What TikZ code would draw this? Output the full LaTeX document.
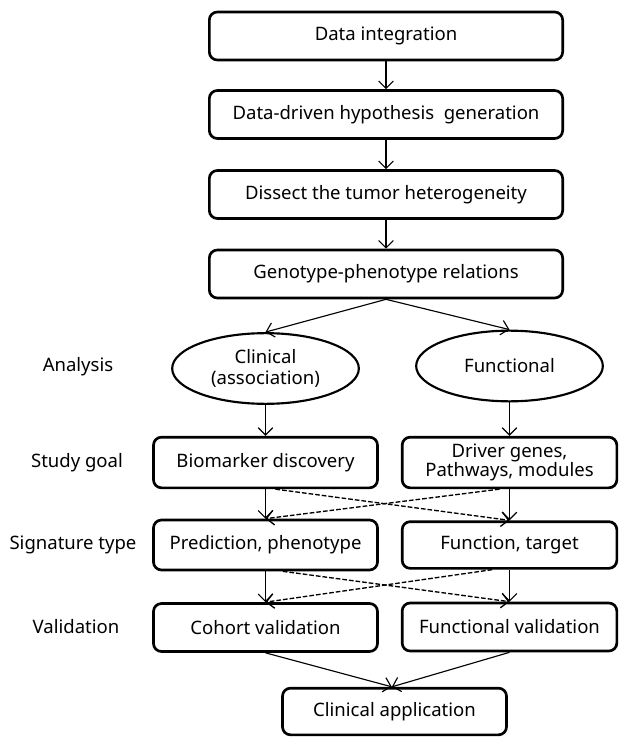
\documentclass[tikz,border=0pt]{standalone}
\usepackage{fontspec}
\setmainfont{Noto Sans}
\usepackage{tikz}
\usetikzlibrary{ arrows.meta,      % For open arrow tips
                 shapes.geometric, % For the ellipses
                 positioning,
               }
\tikzstyle{link} = [-{Straight Barb[length=5.5pt,width=11pt]}, line width=0.85pt]
\tikzstyle{cross} = [link, line width=1pt, dash pattern=on 3.5pt off 1.5pt]
\tikzstyle{block} = [rectangle, rounded corners=6pt, draw=black, line width=2pt, align=center, inner sep=1pt, minimum height=36pt]
\tikzstyle{wide} = [block, minimum width=265pt]
\tikzstyle{leftcol} = [block, minimum width=168pt]
\tikzstyle{rightcol} = [block, minimum width=161pt]
\tikzstyle{bubble} = [ellipse, draw=black, line width=1.6pt, align=center, inner sep=0pt, minimum width=140pt, minimum height=53pt]
\tikzstyle{rowname} = [align=center]

\begin{document}
\begin{tikzpicture}[x=0.75pt, y=-0.75pt, font=\fontsize{13.9}{15.5}\selectfont]
  \useasboundingbox (0,0) rectangle (618,737);

  % main chain
  \node (data) [wide] at (386, 36) {Data integration};
  \node (hyp) [wide] at (386, 114.5) {Data-driven hypothesis\ \ generation};
  \node (dis) [wide] at (386, 194.5) {Dissect the tumor heterogeneity};
  \node (geno) [wide] at (386, 274) {Genotype-phenotype relations};
  \path [link] (data) edge (hyp) (hyp) edge (dis) (dis) edge (geno);

  % analysis
  \node (clin) [bubble] at (265.5, 368.5) {Clinical\\(association)};
  \node (func) [bubble] at (509.5, 366) {Functional};
  \draw [link] (geno.south) -- (clin.north);
  \draw [link] (geno.south) -- (func.north);

  % study goal
  \node (bio) [leftcol, minimum height=38pt] at (265.5, 462.5) {Biomarker discovery};
  \node (drv) [rightcol, minimum height=38pt, inner sep=0pt] at (509.5, 462.5) {Driver genes,\\[-1pt]Pathways, modules};
  \draw [link] (clin) -- (bio);
  \draw [link] (func) -- (drv);

  % signature type
  \node (pred) [leftcol, minimum height=37.5pt] at (265.5, 545) {Prediction, phenotype};
  \node (fun) [rightcol, minimum height=35pt] at (509.5, 545) {Function, target};
  \draw [link] (bio) -- (pred);
  \draw [link] (drv) -- (fun);
  \draw [cross] ([xshift=7.5pt]bio.south) -- (fun.north);
  \draw [cross] ([xshift=-7.5pt]drv.south) -- (pred.north);

  % validation
  \node (coh) [leftcol] at (265.5, 627.5) {Cohort validation};
  \node (fval) [rightcol] at (509.5, 627) {Functional validation};
  \draw [link] (pred) -- (coh);
  \draw [link] (fun) -- (fval);
  \draw [cross] ([xshift=13pt]pred.south) -- (fval.north);
  \draw [cross] ([xshift=-13pt]fun.south) -- (coh.north);

  % outcome
  \node (app) [leftcol, minimum height=35pt] at (394.5, 711.5) {Clinical application};
  \draw [link] (coh.south) -- ([xshift=-2pt]app.north);
  \draw [link] (fval.south) -- ([xshift=-2pt]app.north);

  % row names
  \node (lana) [rowname] at (78, 367) {Analysis};
  \node (lgoal) [rowname] at (77, 463) {Study goal};
  \node (lsig) [rowname] at (73, 545) {Signature type};
  \node (lval) [rowname] at (76, 627) {Validation};
\end{tikzpicture}
\end{document}
